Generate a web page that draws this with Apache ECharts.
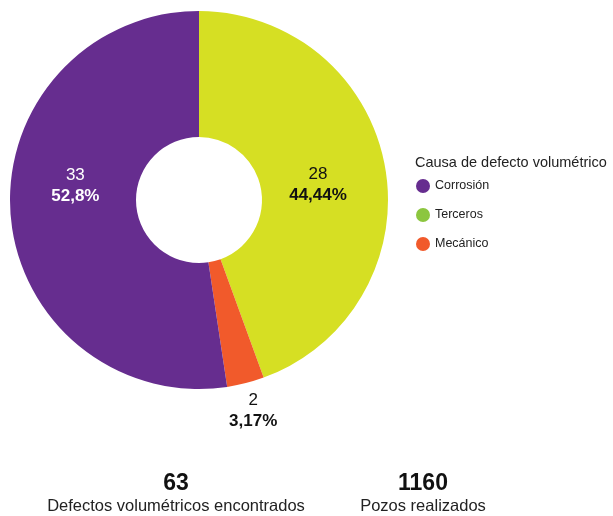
<!DOCTYPE html>
<html>
<head>
<meta charset="utf-8">
<script src="https://cdn.jsdelivr.net/npm/echarts@6/dist/echarts.min.js"></script>
<style>html,body{margin:0;padding:0;background:#fff}#c{width:613px;height:516px}</style>
</head>
<body>
<div id="c"></div>
<script>
const categories = ['Terceros', 'Mecánico', 'Corrosión'];
const values = [28, 2, 33];
const pctLabels = ['44,44%', '3,17%', '52,8%'];
const sliceColors = ['#d6df23', '#f15a2b', '#662d8f'];
const legendOrder = ['Corrosión', 'Terceros', 'Mecánico'];
const legendColors = ['#662d8f', '#8cc63f', '#f15a2b'];
const legendTitle = 'Causa de defecto volumétrico';
const statValues = ['63', '1160'];
const statLabels = ['Defectos volumétricos encontrados', 'Pozos realizados'];

const FONT = '"Liberation Sans", Arial, sans-serif';
const chart = echarts.init(document.getElementById('c'), null, {renderer: 'canvas'});

const labelColors = ['#111', '#111', '#fff'];
const labelShift = [[-8, 7], [-23, 22], [5, -24]];
const data = categories.map((name, i) => ({
  name: name,
  value: values[i],
  itemStyle: {color: sliceColors[i]},
  label: {
    position: i === 1 ? 'outside' : 'inside', color: labelColors[i],
    rich: {
      v: {fontSize: 17, color: labelColors[i], align: 'center', lineHeight: 21, fontFamily: FONT},
      p: {fontSize: 17, fontWeight: 'bold', color: labelColors[i], align: 'center', lineHeight: 21, fontFamily: FONT}
    }
  },
  labelLine: {show: false}
}));

chart.setOption({
  animation: false,
  title: {
    text: legendTitle, left: 410, top: 150,
    textStyle: {fontSize: 14.5, fontWeight: 'normal', color: '#222', fontFamily: FONT}
  },
  legend: {
    orient: 'vertical', left: 411, top: 174, itemGap: 15,
    icon: 'circle', itemWidth: 14, itemHeight: 14,
    textStyle: {fontSize: 12.5, color: '#222', fontFamily: FONT},
    data: legendOrder.map((n, i) => ({name: n, itemStyle: {color: legendColors[i]}}))
  },
  series: [{
    type: 'pie',
    center: [199, 200],
    radius: [63, 189],
    startAngle: 90,
    clockwise: true,
    avoidLabelOverlap: false,
    label: {
      show: true,
      formatter: p => '{v|' + p.value + '}\n{p|' + pctLabels[p.dataIndex] + '}',
      fontFamily: FONT
    },
    labelLine: {show: false, length: 6, length2: 0},
    labelLayout: function (p) {
      const s = labelShift[p.dataIndex];
      return {dx: s[0], dy: s[1]};
    },
    emphasis: {disabled: true},
    data: data
  }],
  graphic: [
    {type: 'text', x: 176, y: 472, style: {text: statValues[0], font: 'bold 23px ' + FONT, fill: '#111', align: 'center', verticalAlign: 'top'}},
    {type: 'text', x: 176, y: 498, style: {text: statLabels[0], font: '16.5px ' + FONT, fill: '#222', align: 'center', verticalAlign: 'top'}},
    {type: 'text', x: 423, y: 472, style: {text: statValues[1], font: 'bold 23px ' + FONT, fill: '#111', align: 'center', verticalAlign: 'top'}},
    {type: 'text', x: 423, y: 498, style: {text: statLabels[1], font: '16.5px ' + FONT, fill: '#222', align: 'center', verticalAlign: 'top'}}
  ]
});
</script>
</body>
</html>
